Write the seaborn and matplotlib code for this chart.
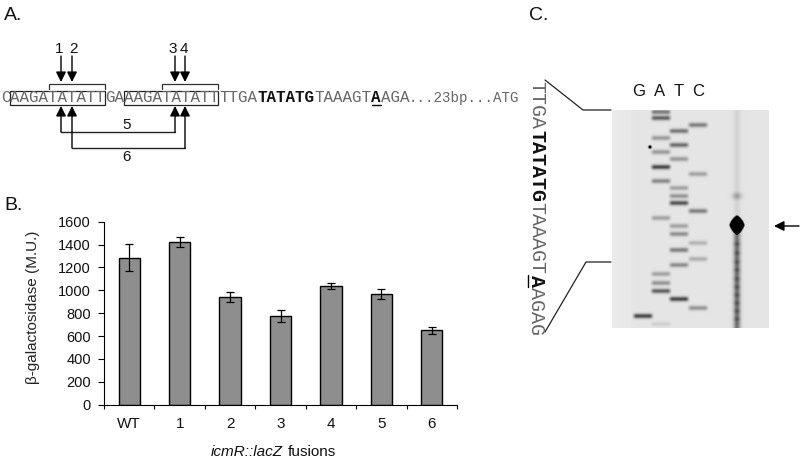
import numpy as np
import pandas as pd
import matplotlib
matplotlib.use("Agg")
import matplotlib.pyplot as plt
from matplotlib.patches import Rectangle
import seaborn as sns

# datos del panel B
fusions = ["WT", "1", "2", "3", "4", "5", "6"]
activity = [1285, 1420, 940, 775, 1035, 970, 650]
errors = [120, 45, 45, 50, 25, 45, 30]
y_ticks = [0, 200, 400, 600, 800, 1000, 1200, 1400, 1600]

# bandas del gel (fila en pixeles del gel, intensidad)
lane_g = [(316, 0.6)]
lane_a = [(112, 0.4), (118, 0.5), (138, 0.28), (152, 0.28), (167, 0.6), (181, 0.35),
          (218, 0.25), (274, 0.25), (283, 0.3), (291, 0.5), (324, 0.08)]
lane_t = [(131, 0.42), (145, 0.45), (159, 0.28), (188, 0.25), (196, 0.3), (203, 0.55), (226, 0.25),
          (234, 0.32), (250, 0.38), (265, 0.33), (299, 0.6)]
lane_c = [(125, 0.38), (174, 0.25), (211, 0.38), (243, 0.18), (259, 0.2), (308, 0.3)]
ladder = [196, 244, 253, 262, 270, 279, 287, 295, 303, 311, 319]

sns.set_theme(style="white")
plt.rcParams["font.family"] = ["Liberation Sans", "DejaVu Sans"]

W, H = 800, 463
fig = plt.figure(figsize=(W / 100, H / 100), dpi=100)

# -------------------------
# Panel B: barras
# -------------------------
ax = fig.add_axes([104 / W, 1 - 404.7 / H, 353 / W, 183 / H])
df = pd.DataFrame({"fusion": fusions, "activity": activity})
sns.barplot(data=df, x="fusion", y="activity", color="#8e8e8e", saturation=1, width=0.42,
            edgecolor="black", linewidth=1, errorbar=None, ax=ax)
ax.errorbar(range(len(fusions)), activity, yerr=errors, fmt="none", ecolor="black",
            elinewidth=0.9, capsize=3.2, capthick=0.9)
ax.set_xlim(-0.5, 6.5)
ax.set_ylim(0, 1600)
ax.set_yticks(y_ticks)
ax.tick_params(axis="y", left=True, length=4.5, width=0.8, color="black", labelsize=10.5,
               labelcolor="#111111", pad=5)
ax.set_xticks(np.arange(-0.5, 7, 1), minor=True)
ax.tick_params(axis="x", which="minor", bottom=True, length=3, width=0.8, color="black")
ax.tick_params(axis="x", which="major", bottom=False, labelsize=11, labelcolor="#111111", pad=3)
ax.set_xlabel("")
ax.set_ylabel("β-galactosidase (M.U.)", fontsize=11, color="#222222")
ax.yaxis.set_label_coords(-0.18, 0.534)
sns.despine(ax=ax)
for s in ["left", "bottom"]:
    ax.spines[s].set_color("black")
    ax.spines[s].set_linewidth(0.8)

# capa de anotaciones en pixeles
ov = fig.add_axes([0, 0, 1, 1], zorder=5)
ov.set_xlim(0, W)
ov.set_ylim(H, 0)
ov.axis("off")
ov.patch.set_alpha(0)

ov.text(211, 452, "icmR::lacZ", fontsize=11, style="italic", color="#111111", va="center", ha="left")
ov.text(288, 452, "fusions", fontsize=11, color="#111111", va="center", ha="left")

for lab, x, y in [("A.", 4, 15), ("B.", 4, 205), ("C.", 529, 16)]:
    ov.text(x, y, lab, fontsize=14, color="#111111", va="center", ha="left")

# -------------------------
# Panel A: secuencia
# -------------------------
MONO = "Liberation Mono"
SEQ = "#666666"
seq_parts = [("C", 1, "normal"), ("AAGATATATT", 10, "normal"), ("GA", 105, "normal"),
             ("AAGATATATT", 124, "normal"), ("TTGA", 219, "normal"), ("TATATG", 257, "bold"),
             ("TAAAGT", 314, "normal"), ("A", 371, "bold"), ("AGA", 381, "normal")]
for s, x, w in seq_parts:
    ov.text(x, 98, s, family=MONO, fontsize=11.4, color="#111111" if w == "bold" else SEQ,
            fontweight=w, va="center", ha="left")
ov.text(409, 98, "...23bp...ATG", family=MONO, fontsize=10.2, color=SEQ, va="center")
ov.plot([372, 381], [105, 105], color="black", lw=1)

for x0, x1 in [(10, 105), (124, 218)]:
    ov.add_patch(Rectangle((x0, 91), x1 - x0, 14, fill=False, ec="#222222", lw=0.9))
for x0, x1 in [(49, 105), (162, 218)]:
    ov.plot([x0, x0, x1, x1], [89, 84, 84, 89], color="#333333", lw=0.9)

def flecha(x0, y0, x1, y1, ms=15):
    ov.annotate("", xy=(x1, y1), xytext=(x0, y0),
                arrowprops=dict(arrowstyle="-|>", color="black", lw=1, mutation_scale=ms,
                                shrinkA=0, shrinkB=0))

for x, tx, lab in [(61, 59, "1"), (72, 73, "2"), (175, 173, "3"), (185, 184, "4")]:
    ov.text(tx, 49, lab, fontsize=11, color="#111111", ha="center", va="center")
    flecha(x, 56, x, 82)
for x0, x1, y, lab, ty in [(61, 175, 132, "5", 125), (72, 185, 148, "6", 157)]:
    ov.plot([x0, x1], [y, y], color="#222222", lw=1)
    flecha(x0, y, x0, 106)
    flecha(x1, y, x1, 106)
    ov.text(126.5, ty, lab, fontsize=11, color="#111111", ha="center", va="center")

# -------------------------
# Panel C: gel
# -------------------------
gx0, gx1, gy0, gy1 = 612, 769, 110, 328
xs, ys = np.meshgrid(np.arange(gx0, gx1) + 0.5, np.arange(gy0, gy1) + 0.5)
gel = 0.08 + 0.025 * np.clip((xs - gx0) / 25, 0, 1)

def banda(cx, bands, half=9.0):
    img = np.zeros_like(gel)
    prof = np.clip((half + 2 - np.abs(xs - cx)) / 4, 0, 1)
    for row, val in bands:
        img += val * np.exp(-((ys - row) / 2.4) ** 2) * prof
    return img

gel += banda(643, lane_g) + banda(661, lane_a) + banda(679, lane_t) + banda(698, lane_c)

# carril de la muestra
streak = np.exp(-((xs - 737) / 3.4) ** 2)
gel += streak * np.where(ys < 226, 0.07, 0.45)
gel += 0.2 * np.exp(-((xs - 737) / 5) ** 2 - ((ys - ladder[0]) / 3.5) ** 2)
for row in ladder[1:]:
    gel += 0.12 * np.exp(-((xs - 737) / 3.5) ** 2 - ((ys - row) / 2.2) ** 2)
blob = (np.abs(xs - 737) / 7.5) ** 1.4 + (np.abs(ys - 225) / 9.5) ** 1.4
gel += 3 * np.clip(1.15 - blob, 0, 1)
gel += 1.5 * np.exp(-((xs - 650) / 1.4) ** 2 - ((ys - 147) / 1.4) ** 2)

ov.imshow(np.clip(gel, 0, 1), cmap="gray_r", vmin=0, vmax=1, extent=(gx0, gx1, gy1, gy0),
          aspect="auto", interpolation="bilinear", zorder=1)
ov.set_xlim(0, W)
ov.set_ylim(H, 0)

for lab, x in [("G", 639), ("A", 660), ("T", 679), ("C", 698)]:
    ov.text(x, 92, lab, fontsize=12, color="#111111", ha="center", va="center")

ov.plot([545, 583, 611], [80, 110, 110], color="#222222", lw=0.9)
ov.plot([545, 586, 611], [332, 262, 262], color="#222222", lw=0.9)
flecha(799, 226, 774, 226, ms=15)

# secuencia vertical
vert_parts = [("TTGA", 81, "normal"), ("TATATG", 130, "bold"), ("TAAAGT", 202, "normal"),
              ("A", 275, "bold"), ("AGAG", 287, "normal")]
for s, y, w in vert_parts:
    ov.text(536.5, y, s, family=MONO, fontsize=14.4, color="#111111" if w == "bold" else SEQ,
            fontweight=w, rotation=-90, va="top", ha="center")
ov.plot([528, 528], [275, 287], color="black", lw=1)

plt.savefig("out.png", dpi=100)
